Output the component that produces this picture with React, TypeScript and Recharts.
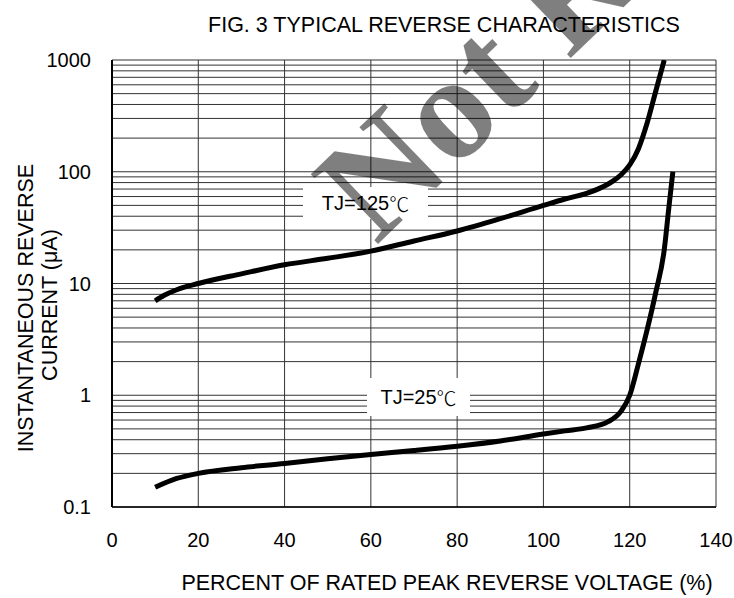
import React from 'react'
import { LineChart, Line, XAxis, YAxis, CartesianGrid } from 'recharts'

const FONT = "'Liberation Sans', Arial, 'Noto Sans CJK SC', sans-serif"
const CJK = "'Noto Sans CJK SC', 'Noto Sans CJK JP', sans-serif"

// percent of rated peak reverse voltage
const X_TICKS = [0, 20, 40, 60, 80, 100, 120, 140]

// log grid (1..9 per decade), only decades get a label
const Y_TICKS = [
  0.1, 0.2, 0.3, 0.4, 0.5, 0.6, 0.7, 0.8, 0.9,
  1, 2, 3, 4, 5, 6, 7, 8, 9,
  10, 20, 30, 40, 50, 60, 70, 80, 90,
  100, 200, 300, 400, 500, 600, 700, 800, 900,
  1000,
]
const Y_DECADES = [0.1, 1, 10, 100, 1000]

// TJ = 125 C
const X_125 = [10, 12, 15, 20, 30, 40, 50, 60, 70, 80, 90, 100, 105, 110, 113, 116, 118, 120, 122, 124, 126, 128]
const Y_125 = [7, 7.8, 8.8, 10, 12.2, 14.7, 16.8, 19.5, 24, 29.5, 38, 50, 57, 64, 71, 82, 94, 115, 160, 270, 520, 1000]

// TJ = 25 C
const X_25 = [10, 15, 20, 30, 40, 50, 60, 70, 80, 90, 100, 105, 110, 115, 118, 120, 122, 124, 126, 128, 129, 130]
const Y_25 = [0.15, 0.18, 0.2, 0.225, 0.245, 0.27, 0.295, 0.32, 0.35, 0.39, 0.45, 0.48, 0.51, 0.58, 0.72, 1.0, 1.9, 3.8, 8.2, 20, 45, 100]

const data125 = X_125.map((x, i) => ({ x, y: Y_125[i] }))
const data25 = X_25.map((x, i) => ({ x, y: Y_25[i] }))

const renderYLabel = () => (
  <g>
    <text x={26} y={308} transform="rotate(-90 26 308)" textAnchor="middle" dominantBaseline="central"
      fontSize={21.5} fontFamily={FONT} fill="#000">INSTANTANEOUS REVERSE</text>
    <text x={50} y={305} transform="rotate(-90 50 305)" textAnchor="middle" dominantBaseline="central"
      fontSize={21.5} fontFamily={FONT} fill="#000">CURRENT (μA)</text>
  </g>
)

const boxStyle: React.CSSProperties = {
  position: 'absolute',
  background: '#fff',
  display: 'flex',
  alignItems: 'center',
  justifyContent: 'center',
  fontSize: 20,
  color: '#000',
}

export default function App() {
  return (
    <div style={{ position: 'absolute', left: 0, top: 0, width: 734, height: 598, fontFamily: FONT, background: '#fff' }}>
      <LineChart width={734} height={598} data={data125} margin={{ top: 60, right: 18, bottom: 0, left: 0 }}>
        <CartesianGrid stroke="#333" strokeWidth={1} />
        <XAxis
          type="number"
          dataKey="x"
          domain={[0, 140]}
          ticks={X_TICKS}
          interval={0}
          height={91}
          tickLine={false}
          tickSize={0}
          tickMargin={26}
          axisLine={{ stroke: '#000', strokeWidth: 1.5 }}
          tick={{ fill: '#000', fontSize: 20, fontFamily: FONT }}
          label={{
            value: 'PERCENT OF RATED PEAK REVERSE VOLTAGE (%)',
            position: 'insideBottom',
            offset: 8,
            dx: 33,
            fill: '#000',
            fontSize: 21.5,
            fontFamily: FONT,
          }}
        />
        <YAxis
          type="number"
          scale="log"
          domain={[0.1, 1000]}
          allowDataOverflow
          ticks={Y_TICKS}
          interval={0}
          width={112}
          tickLine={false}
          tickSize={0}
          tickMargin={21}
          axisLine={{ stroke: '#000', strokeWidth: 2 }}
          tick={{ fill: '#000', fontSize: 20, fontFamily: FONT }}
          tickFormatter={(v: number) => (Y_DECADES.includes(v) ? String(v) : '')}
          label={renderYLabel}
        />
        <Line data={data125} dataKey="y" type="monotone" stroke="#000" strokeWidth={5} dot={false} isAnimationActive={false} />
        <Line data={data25} dataKey="y" type="monotone" stroke="#000" strokeWidth={5} dot={false} isAnimationActive={false} />
      </LineChart>

      <div style={{ position: 'absolute', left: 144, top: 13, width: 600, textAlign: 'center', fontSize: 21.5, lineHeight: '24px', color: '#000' }}>
        FIG. 3 TYPICAL REVERSE CHARACTERISTICS
      </div>

      <div style={{ ...boxStyle, left: 303, top: 187, width: 125, height: 32 }}>
        TJ=125<span style={{ fontFamily: CJK, fontWeight: 300 }}>℃</span>
      </div>
      <div style={{ ...boxStyle, left: 367, top: 378, width: 103, height: 38 }}>
        TJ=25<span style={{ fontFamily: CJK, fontWeight: 300 }}>℃</span>
      </div>

      <svg width={734} height={598} style={{ position: 'absolute', left: 0, top: 0, pointerEvents: 'none' }}>
        <text x={376} y={246} transform="rotate(-44 376 246)" fontSize={148} fontWeight="bold"
          fontFamily="'Liberation Serif', 'DejaVu Serif', serif" fill="#000" fillOpacity={0.5}>
          Not Re
        </text>
      </svg>
    </div>
  )
}
